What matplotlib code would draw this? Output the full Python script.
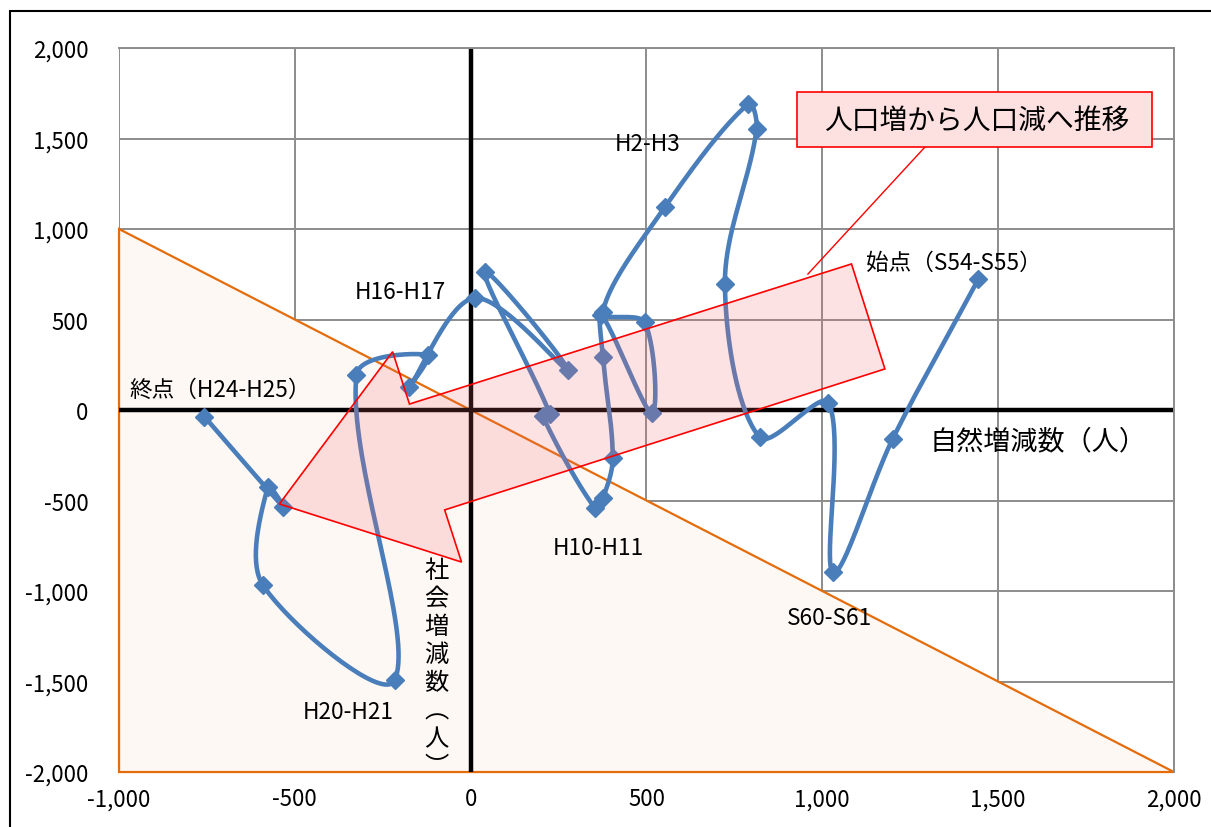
import numpy as np
import matplotlib.pyplot as plt
from matplotlib.patches import Polygon, Rectangle

plt.rcParams['font.family'] = ['Noto Sans CJK JP', 'DejaVu Sans']

# 自然増減数 (x) and 社会増減数 (y), from S54-S55 to H24-H25
natural = [1444, 1200, 1031, 1017, 822, 723, 813, 789, 552, 376, 495, 515,
           372, 376, 404, 376, 353, 205, 225, 40, 276, 11, -174, -122,
           -325, -216, -591, -577, -534, -757]
social = [724, -160, -897, 40, -151, 696, 1552, 1690, 1120, 540, 484, -18,
          525, 294, -266, -487, -541, -35, -20, 764, 221, 619, 129, 304,
          193, -1492, -967, -424, -534, -37]

x_ticks = [-1000, -500, 0, 500, 1000, 1500, 2000]
y_ticks = [-2000, -1500, -1000, -500, 0, 500, 1000, 1500, 2000]

# big arrow "人口増から人口減へ推移"
arrow_x = [1083, 1178, -74, -26, -544, -222, -174]
arrow_y = [807, 227, -552, -840, -519, 322, 33]

# point labels
labels = ['始点（S54-S55）', 'S60-S61', 'H2-H3', 'H10-H11', 'H16-H17',
          'H20-H21', '終点（H24-H25）']
label_x = [1124, 899, 410, 233, -330, -478, -970]
label_y = [818, -1144, 1470, -757, 657, -1663, 116]

BLUE = '#4a7ebb'
ORANGE = '#e46c0a'
SX, SY = 0.3514, 0.181  # pixels per unit, used to weight the smoothing


def smooth(xs, ys, n=40):
    # bezier smoothing, tangents weighted by segment length (in pixels)
    p = np.column_stack([xs, ys]).astype(float)
    ext = np.vstack([p[0], p, p[-1]])
    scale = np.array([SX, SY])

    def dist(a, b):
        return np.hypot(*((b - a) * scale)) + 1e-9

    out = []
    t = np.linspace(0, 1, n)[:, None]
    for i in range(len(p) - 1):
        p0, p1, p2, p3 = ext[i], ext[i + 1], ext[i + 2], ext[i + 3]
        d01, d12, d23 = dist(p0, p1), dist(p1, p2), dist(p2, p3)
        c1 = p1 + (p2 - p0) * d12 / (d01 + d12) / 3
        c2 = p2 - (p3 - p1) * d12 / (d12 + d23) / 3
        seg = (1 - t)**3 * p1 + 3 * (1 - t)**2 * t * c1 + 3 * (1 - t) * t**2 * c2 + t**3 * p2
        out.append(seg if i == 0 else seg[1:])
    return np.vstack(out)


fig = plt.figure(figsize=(12.11, 8.28), dpi=100)
ax = fig.add_axes([0.0983, 0.0664, 0.8711, 0.8744])
ax.set_xlim(-1000, 2000)
ax.set_ylim(-2000, 2000)

# outer chart frame
fig.patches.append(Rectangle((10 / 1211, -0.05), 1.2, 1.05 - 12 / 828,
                             transform=fig.transFigure, fill=False,
                             edgecolor='black', lw=1.5))

# triangle below the diagonal
tri = Polygon([(-1000, 1000), (2000, -2000), (-1000, -2000)], closed=True,
              facecolor='#fef8f5', edgecolor=ORANGE, lw=1.6, zorder=1,
              clip_on=False)
ax.add_patch(tri)

ax.set_xticks(x_ticks)
ax.set_yticks(y_ticks)
ax.set_xticklabels([f'{v:,}' for v in x_ticks], fontsize=16)
ax.set_yticklabels([f'{v:,}' for v in y_ticks], fontsize=16)
ax.tick_params(length=0)
ax.tick_params(axis='y', pad=22)
ax.tick_params(axis='x', pad=11)
ax.grid(True, color='#8c8c8c', lw=1.4, zorder=0.5)
ax.set_axisbelow(True)
for s in ['left', 'bottom']:
    ax.spines[s].set_visible(False)
for s in ['top', 'right']:
    ax.spines[s].set_color('#8c8c8c')
    ax.spines[s].set_linewidth(1.4)

ax.axhline(0, color='black', lw=3.2, zorder=2)
ax.axvline(0, color='black', lw=3.2, zorder=2)

curve = smooth(natural, social)
ax.plot(curve[:, 0], curve[:, 1], color=BLUE, lw=3.3, zorder=3,
        solid_capstyle='round')
ax.plot(natural, social, ls='none', marker='D', ms=9, color=BLUE, zorder=3)

# the arrow on top, semi-transparent
ax.add_patch(Polygon(list(zip(arrow_x, arrow_y)), closed=True,
                     facecolor=(0.95, 0.40, 0.40, 0.19), edgecolor='red',
                     lw=1.2, zorder=4))

# callout box and its leader line
ax.plot([1292, 959], [1453, 751], color='red', lw=1.0, zorder=4)
ax.add_patch(Rectangle((928, 1453), 1010, 304, facecolor='#fde0e0',
                       edgecolor='red', lw=1.2, zorder=5))
ax.text(1440, 1605, '人口増から人口減へ推移', fontsize=20, ha='center',
        va='center', zorder=6)

for lab, lx, ly in zip(labels, label_x, label_y):
    ax.text(lx, ly, lab, fontsize=16.3, ha='left', va='center', zorder=6)

ax.text(1306, -170, '自然増減数（人）', fontsize=19.5, ha='left', va='center',
        zorder=6)
ax.text(-97, -812, '\n'.join('社会増減数︵人︶'), fontsize=17.5, ha='center',
        va='top', linespacing=1.1, zorder=6)

fig.savefig('out.png', dpi=100)
